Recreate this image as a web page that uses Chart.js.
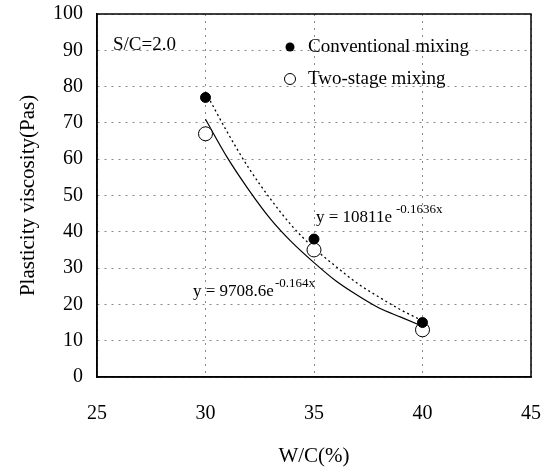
<!DOCTYPE html>
<html lang="en">
<head>
  <meta charset="UTF-8">
  <title>Plasticity viscosity vs W/C</title>
  <script src="https://cdn.jsdelivr.net/npm/chart.js"></script>
  <style>
    body { margin: 0; background: #fff; }
    #wrap { width: 550px; height: 469px; }
  </style>
</head>
<body>
  <div id="wrap"><canvas id="chart" width="550" height="469"></canvas></div>
  <script>
    // measured points
    const wc = [30, 35, 40];
    const conventional = [77, 38, 15];
    const twoStage = [67, 35, 13];

    // trend curves
    const trendX = [30, 31, 32, 33, 34, 35, 36, 37, 38, 39, 40];
    const conventionalTrend = [78.5, 67.5, 57.5, 49, 41.5, 35.5, 30.5, 25.8, 22, 18.5, 15.5];
    const twoStageTrend = [71, 60.5, 51.5, 43.5, 37, 31.5, 26.5, 22.5, 19, 16.5, 14];

    const labels = ['Conventional mixing', 'Two-stage mixing'];
    const serif = "'Liberation Serif', 'DejaVu Serif', serif";

    const pts = (xs, ys) => xs.map((x, i) => ({ x: x, y: ys[i] }));

    const extras = {
      id: 'extras',
      afterDatasetsDraw(chart) {
        const ctx = chart.ctx;
        const a = chart.chartArea;
        ctx.save();
        // frame
        ctx.strokeStyle = '#000';
        ctx.lineWidth = 1.5;
        ctx.strokeRect(a.left, a.top, a.right - a.left, a.bottom - a.top);

        ctx.fillStyle = '#000';
        ctx.textBaseline = 'middle';
        ctx.font = '19px ' + serif;
        ctx.fillText('S/C=2.0', 113, 45);

        // legend
        ctx.beginPath();
        ctx.arc(290, 47, 4.5, 0, Math.PI * 2);
        ctx.fill();
        ctx.fillText(labels[0], 308, 47);
        ctx.beginPath();
        ctx.arc(290, 79, 5.5, 0, Math.PI * 2);
        ctx.lineWidth = 1;
        ctx.stroke();
        ctx.fillText(labels[1], 308, 79);

        // equations
        ctx.font = '17px ' + serif;
        ctx.fillText('y = 10811e', 316, 218);
        ctx.font = '13px ' + serif;
        ctx.fillText('-0.1636x', 396, 210);
        ctx.font = '17px ' + serif;
        ctx.fillText('y = 9708.6e', 193, 292);
        ctx.font = '13px ' + serif;
        ctx.fillText('-0.164x', 275, 284);
        ctx.restore();
      }
    };

    new Chart(document.getElementById('chart'), {
      type: 'scatter',
      data: {
        datasets: [
          { label: labels[0], data: pts(wc, conventional), pointRadius: 5, pointHoverRadius: 5,
            backgroundColor: '#000', borderColor: '#000', showLine: false },
          { label: labels[1], data: pts(wc, twoStage), pointRadius: 7, pointHoverRadius: 7,
            backgroundColor: '#fff', borderColor: '#000', borderWidth: 1, showLine: false },
          { label: 'trend1', data: pts(trendX, conventionalTrend), showLine: true, pointRadius: 0,
            borderColor: '#000', borderWidth: 1.3, borderDash: [2, 3], cubicInterpolationMode: 'monotone' },
          { label: 'trend2', data: pts(trendX, twoStageTrend), showLine: true, pointRadius: 0,
            borderColor: '#000', borderWidth: 1.2, cubicInterpolationMode: 'monotone' }
        ]
      },
      options: {
        responsive: false,
        animation: false,
        layout: { padding: { left: 0, right: 19, top: 14, bottom: 0 } },
        plugins: { legend: { display: false }, tooltip: { enabled: false } },
        scales: {
          x: {
            type: 'linear', min: 25, max: 45,
            afterFit: s => { s.height = 92; s.paddingLeft = 0; s.paddingRight = 0; },
            ticks: { stepSize: 5, color: '#000', padding: 25, font: { family: serif, size: 20 } },
            grid: { color: '#888', drawTicks: false },
            border: { color: '#000', width: 1.5, dash: [2, 5] },
            title: { display: true, text: 'W/C(%)', color: '#000', padding: { top: 0, bottom: 0 },
              font: { family: serif, size: 21 } }
          },
          y: {
            min: 0, max: 100,
            afterFit: s => { s.width = 97; s.paddingTop = 0; s.paddingBottom = 0; },
            ticks: { stepSize: 10, color: '#000', padding: 14, font: { family: serif, size: 20 } },
            grid: { color: '#888', drawTicks: false },
            border: { color: '#000', width: 1.5, dash: [2, 5] },
            title: { display: true, text: 'Plasticity viscosity(Pas)', color: '#000',
              padding: { top: 16, bottom: 0 }, font: { family: serif, size: 21 } }
          }
        }
      },
      plugins: [extras]
    });
  </script>
</body>
</html>
